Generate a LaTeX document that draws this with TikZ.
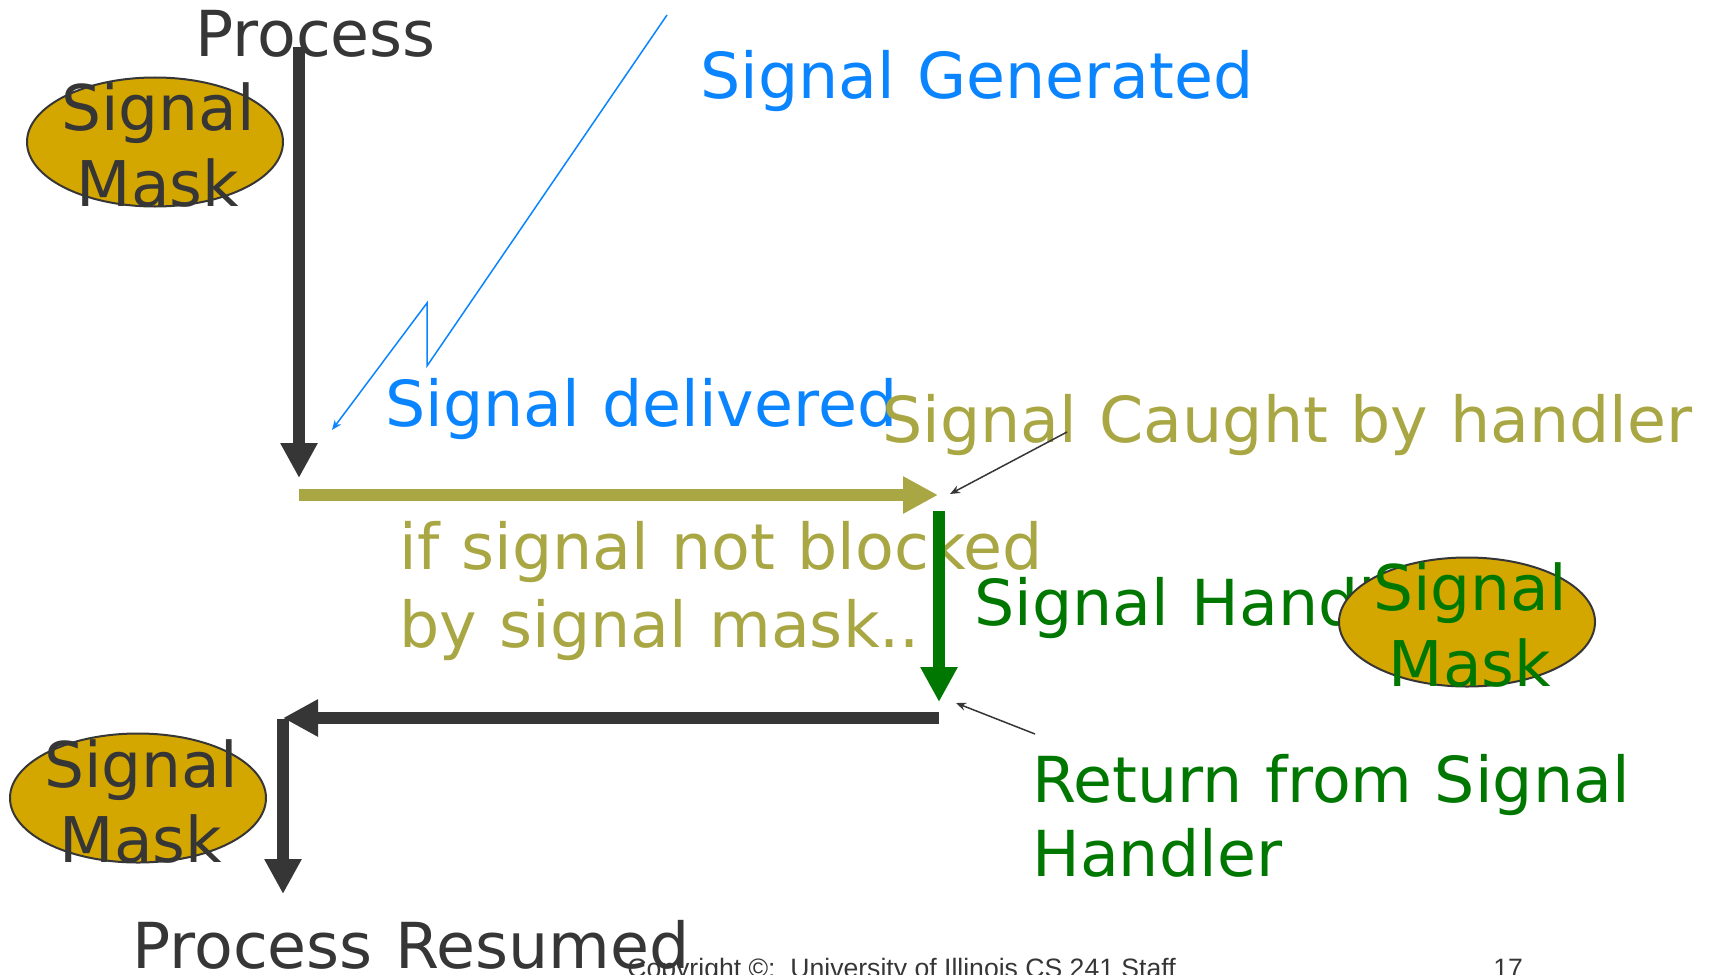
\documentclass[tikz,border=0pt]{standalone}
\usepackage{fontspec}
\setmainfont{DejaVu Sans}[WordSpace=1.106]
\newfontfamily\crfont{Liberation Sans}
\usetikzlibrary{arrows.meta,shapes.geometric}
\definecolor{dgray}{HTML}{363636}
\definecolor{colOlive}{HTML}{A9A644}
\definecolor{colBlue}{HTML}{0A84FF}
\definecolor{colGreen}{HTML}{007700}
\definecolor{colGold}{HTML}{D4A700}
\begin{document}
\begin{tikzpicture}[x=0.5pt,y=-0.5pt,
  txt/.style={font=\fontsize{31.7}{37.5}\selectfont, inner sep=0pt, anchor=base west},
  ctxt/.style={font=\fontsize{31.5}{37.5}\selectfont, inner sep=0pt, anchor=base},
  mask/.style={ellipse, draw=dgray, line width=1pt, fill=colGold, minimum width=128pt, minimum height=64.5pt, inner sep=0pt},
  bigarrow/.style={line width=6pt, -{Triangle[length=17.5pt,width=17.5pt]}},
  thinarrow/.style={line width=0.75pt, dgray, -{Stealth[length=5pt,width=4pt]}},
  crtxt/.style={font=\crfont\fontsize{13.3}{16}\selectfont, inner sep=0pt, anchor=base west, text=dgray}]
\useasboundingbox (0,0) rectangle (1711,974);

% texts
\node[txt, text=dgray] (tProc) at (195,57) {Process};
\node[txt, text=colBlue] (tGen) at (700,98) {Signal Generated};
\node[txt, text=colBlue] (tDel) at (385,426) {Signal delivered};
\node[txt, text=colOlive] (tCaught) at (882,442) {Signal Caught by handler};
\node[txt, text=colOlive] (tIf1) at (399,569) {if signal not blocked};
\node[txt, text=colOlive] (tIf2) at (399,647) {by signal mask..};
\node[txt, text=colGreen] (tHand) at (974,625) {Signal Handler};
\node[txt, text=colGreen] (tRet1) at (1032,802) {Return from Signal};
\node[txt, text=colGreen] (tRet2) at (1032,876) {Handler};
\node[txt, text=dgray] (tRes) at (132,968) {Process Resumed};
\node[crtxt] (tCopy) at (627,977) {Copyright ©:\ \ University of Illinois CS 241 Staff};
\node[crtxt] (tPage) at (1493,977) {17};

% signal masks
\node[mask] (m1) at (155,142) {};
\node[ctxt, text=dgray] (m1a) at (158,130) {Signal};
\node[ctxt, text=dgray] (m1b) at (158,206) {Mask};
\node[mask] (m2) at (138,798) {};
\node[ctxt, text=dgray] (m2a) at (141,787) {Signal};
\node[ctxt, text=dgray] (m2b) at (141,862) {Mask};
\node[mask] (m3) at (1467,622) {};
\node[ctxt, text=colGreen] (m3a) at (1470,610) {Signal};
\node[ctxt, text=colGreen] (m3b) at (1470,686) {Mask};

% coordinates
\coordinate (a1s) at (299,47);
\coordinate (a1e) at (299,478);
\coordinate (a2s) at (299,495);
\coordinate (a2e) at (938,495);
\coordinate (a3s) at (939,511);
\coordinate (a3e) at (939,702);
\coordinate (a4s) at (939,718);
\coordinate (a4e) at (283,718);
\coordinate (a5s) at (283,719);
\coordinate (a5e) at (283,894);
\coordinate (lgA) at (667,15);
\coordinate (lgB) at (427,366);
\coordinate (lgC) at (427,303);
\coordinate (lgD) at (332,430);
\coordinate (c1s) at (1067,432);
\coordinate (c1e) at (950,494);
\coordinate (c2s) at (1035,734);
\coordinate (c2e) at (956,703);

% arrows
\draw[bigarrow, dgray] (a1s) -- (a1e);
\draw[bigarrow, colOlive] (a2s) -- (a2e);
\draw[bigarrow, colGreen] (a3s) -- (a3e);
\draw[bigarrow, dgray] (a4s) -- (a4e);
\draw[bigarrow, dgray] (a5s) -- (a5e);
\draw[line width=0.75pt, colBlue, -{Stealth[length=5pt,width=4pt]}] (lgA) -- (lgB) -- (lgC) -- (lgD);
\draw[thinarrow] (c1s) -- (c1e);
\draw[thinarrow] (c2s) -- (c2e);
\end{tikzpicture}
\end{document}
